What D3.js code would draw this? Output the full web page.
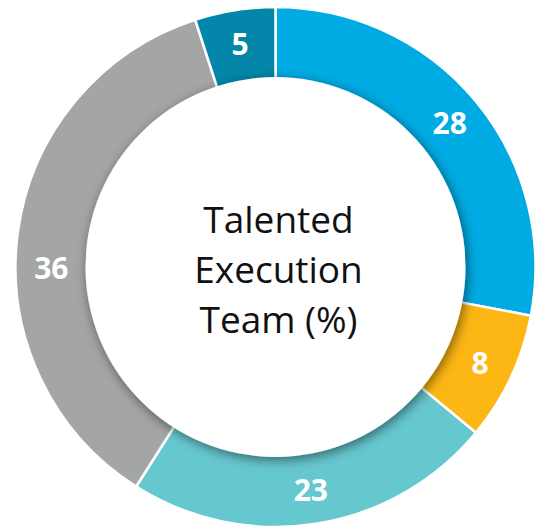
<!DOCTYPE html>
<html>
<head>
<meta charset="utf-8">
<script src="https://cdn.jsdelivr.net/npm/d3@7"></script>
<style>
  html, body { margin: 0; padding: 0; background: #fff; }
  svg { display: block; }
</style>
</head>
<body>
<svg id="chart" width="541" height="529"></svg>
<script>
(function () {
  "use strict";

  // slices, clockwise from 12 o'clock
  const categories = ["A", "B", "C", "D", "E"];
  const values = [28, 8, 23, 36, 5];
  const colors = ["#00abe3", "#fdb714", "#66c8cf", "#a4a5a5", "#0386a9"];
  const titleLines = ["Talented", "Execution", "Team (%)"];

  const cx = 275.5, cy = 267;
  const outerR = 260, innerR = 190;

  const svg = d3.select("#chart");
  const defs = svg.append("defs");

  const shadow = defs.append("filter")
    .attr("id", "hole-shadow")
    .attr("x", "-20%").attr("y", "-20%")
    .attr("width", "140%").attr("height", "140%");
  shadow.append("feDropShadow")
    .attr("dx", 2).attr("dy", 3)
    .attr("stdDeviation", 6)
    .attr("flood-color", "#000")
    .attr("flood-opacity", 0.5);

  const g = svg.append("g").attr("transform", `translate(${cx},${cy})`);

  const pie = d3.pie().sort(null).value((d) => d.value);
  const data = pie(categories.map((c, i) => ({ key: c, value: values[i], color: colors[i] })));

  const arc = d3.arc().innerRadius(innerR - 20).outerRadius(outerR);
  const labelArc = d3.arc().innerRadius(226).outerRadius(226);

  g.selectAll("path.slice")
    .data(data)
    .join("path")
    .attr("class", "slice")
    .attr("d", arc)
    .attr("fill", (d) => d.data.color)
    .attr("stroke", "#fff")
    .attr("stroke-width", 2.5);

  // white hole, soft shadow falls onto the ring
  g.append("circle")
    .attr("r", innerR)
    .attr("fill", "#fff")
    .attr("filter", "url(#hole-shadow)");

  // the big grey label sits lower than its centroid in the original
  function labelPos(d) {
    const [x, y] = labelArc.centroid(d);
    if (d.data.key === "D") return [x, y + 30];
    return [x, y];
  }

  g.selectAll("text.val")
    .data(data)
    .join("text")
    .attr("class", "val")
    .attr("transform", (d) => `translate(${labelPos(d)})`)
    .attr("text-anchor", "middle")
    .attr("dy", "0.36em")
    .attr("fill", "#fff")
    .style("font-family", "'Open Sans', 'Noto Sans', sans-serif")
    .style("font-weight", 700)
    .style("font-size", "30px")
    .text((d) => d.data.value);

  const title = g.append("text")
    .attr("text-anchor", "middle")
    .attr("fill", "#111")
    .style("font-family", "'Open Sans', 'Noto Sans', sans-serif")
    .style("font-size", "37px");
  titleLines.forEach((t, i) => {
    title.append("tspan")
      .attr("x", 3)
      .attr("y", -34 + i * 50)
      .text(t);
  });
})();
</script>
</body>
</html>
